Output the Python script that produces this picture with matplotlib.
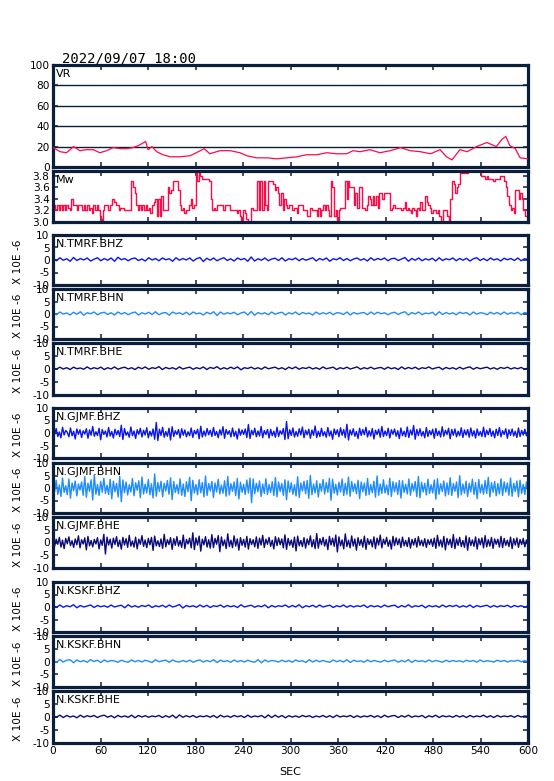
import numpy as np
import matplotlib
matplotlib.use("Agg")
import matplotlib.pyplot as plt

plt.rcParams['axes.unicode_minus'] = False
plt.rcParams['font.family'] = ['DejaVu Sans']

TITLE = "2022/09/07 18:00"
X_TICKS = [0, 60, 120, 180, 240, 300, 360, 420, 480, 540, 600]
VR_TICKS = [0, 20, 40, 60, 80, 100]
MW_TICKS = [3.0, 3.2, 3.4, 3.6, 3.8]
SEIS_TICKS = [-10, -5, 0, 5, 10]
SEIS_UNIT = "X 10E -6"

# (sec, VR %)
VR_POINTS = [(0, 19), (9, 15), (17, 14), (26, 20), (34, 16), (42, 17), (51, 17), (59, 14),
             (68, 16), (76, 19), (85, 18), (93, 18), (101, 19), (108, 21), (117, 25), (120, 17),
             (125, 20), (131, 15), (139, 12), (148, 10), (160, 10), (173, 11), (181, 14),
             (191, 18), (198, 13), (211, 16), (224, 16), (236, 14), (245, 11), (257, 9),
             (270, 9), (283, 8), (295, 9), (308, 10), (320, 12), (333, 12), (346, 14),
             (358, 13), (371, 13), (379, 16), (388, 15), (400, 17), (413, 14), (426, 16),
             (439, 19), (451, 16), (464, 15), (477, 13), (489, 17), (497, 10), (504, 7),
             (514, 17), (523, 15), (535, 20), (548, 24), (560, 20), (567, 27), (572, 30),
             (577, 21), (584, 18), (590, 9), (600, 8)]

# (sec, Mw)
MW_POINTS = [(0, 3.3), (2, 3.2), (5, 3.3), (7, 3.2), (9, 3.3), (11, 3.2), (13, 3.3), (15, 3.2),
             (17, 3.3), (19, 3.25), (21, 3.2), (23, 3.4), (25, 3.3), (28, 3.3), (30, 3.2),
             (32, 3.3), (35, 3.3), (37, 3.2), (39, 3.3), (41, 3.2), (43, 3.3), (45, 3.2),
             (47, 3.25), (49, 3.15), (51, 3.3), (53, 3.2), (55, 3.3), (57, 3.2), (59, 3.1),
             (60, 3.05), (62, 3.0), (63, 3.2), (65, 3.3), (67, 3.3), (70, 3.2), (72, 3.3),
             (75, 3.4), (77, 3.35), (79, 3.3), (81, 3.3), (83, 3.2), (85, 3.25), (88, 3.25),
             (90, 3.2), (94, 3.2), (97, 3.2), (99, 3.7), (101, 3.6), (103, 3.5), (105, 3.3),
             (107, 3.2), (109, 3.3), (111, 3.2), (113, 3.3), (115, 3.2), (117, 3.3), (119, 3.2),
             (121, 3.25), (123, 3.15), (125, 3.3), (127, 3.35), (129, 3.4), (131, 3.1),
             (133, 3.4), (135, 3.1), (137, 3.45), (139, 3.2), (141, 3.2), (143, 3.2), (145, 3.6),
             (147, 3.5), (149, 3.55), (151, 3.7), (153, 3.7), (155, 3.7), (157, 3.7), (158, 3.55),
             (160, 3.3), (162, 3.2), (164, 3.25), (166, 3.15), (168, 3.2), (170, 3.2), (172, 3.3),
             (174, 3.4), (176, 3.25), (178, 3.3), (180, 3.85), (182, 3.7), (184, 3.85),
             (186, 3.8), (188, 3.75), (190, 3.75), (193, 3.75), (195, 3.75), (197, 3.7),
             (199, 3.4), (201, 3.2), (203, 3.25), (205, 3.2), (207, 3.3), (210, 3.3), (212, 3.3),
             (215, 3.2), (217, 3.3), (220, 3.3), (222, 3.3), (224, 3.2), (226, 3.2), (228, 3.2),
             (230, 3.2), (232, 3.15), (234, 3.2), (236, 3.1), (238, 3.0), (240, 3.2), (242, 3.15),
             (244, 3.05), (246, 3.0), (248, 3.0), (250, 3.25), (252, 3.2), (254, 3.2), (256, 3.2),
             (258, 3.7), (260, 3.2), (262, 3.7), (264, 3.2), (266, 3.7), (268, 3.3), (270, 3.2),
             (272, 3.7), (274, 3.7), (276, 3.7), (278, 3.65), (280, 3.55), (282, 3.6), (284, 3.5),
             (286, 3.3), (288, 3.5), (290, 3.2), (292, 3.4), (294, 3.3), (296, 3.25), (298, 3.3),
             (300, 3.3), (302, 3.2), (305, 3.25), (308, 3.15), (310, 3.3), (313, 3.3), (316, 3.2),
             (319, 3.2), (321, 3.1), (324, 3.25), (327, 3.2), (330, 3.2), (333, 3.1), (335, 3.25),
             (337, 3.1), (339, 3.2), (341, 3.3), (343, 3.2), (345, 3.3), (347, 3.2), (349, 3.1),
             (351, 3.7), (353, 3.6), (355, 3.1), (357, 3.2), (359, 3.0), (361, 3.2), (363, 3.25),
             (365, 3.25), (367, 3.25), (369, 3.7), (371, 3.4), (372, 3.7), (374, 3.6), (376, 3.6),
             (378, 3.6), (380, 3.3), (382, 3.5), (384, 3.25), (386, 3.6), (388, 3.6), (390, 3.25),
             (392, 3.25), (394, 3.2), (396, 3.3), (398, 3.45), (400, 3.4), (402, 3.3), (404, 3.45),
             (406, 3.3), (408, 3.45), (410, 3.25), (412, 3.5), (414, 3.5), (416, 3.4), (418, 3.5),
             (420, 3.5), (422, 3.5), (424, 3.5), (426, 3.2), (428, 3.25), (430, 3.3), (432, 3.25),
             (434, 3.25), (436, 3.25), (438, 3.25), (440, 3.2), (442, 3.25), (444, 3.35),
             (446, 3.2), (448, 3.25), (450, 3.2), (452, 3.15), (454, 3.25), (456, 3.2), (458, 3.1),
             (460, 3.25), (462, 3.2), (464, 3.35), (466, 3.2), (468, 3.2), (470, 3.45), (472, 3.35),
             (474, 3.3), (476, 3.25), (478, 3.15), (480, 3.2), (482, 3.2), (484, 3.15), (486, 3.2),
             (488, 3.1), (490, 3.0), (492, 3.2), (494, 3.2), (496, 3.2), (498, 3.1), (500, 3.0),
             (502, 3.4), (504, 3.7), (506, 3.65), (508, 3.5), (510, 3.6), (512, 3.65), (514, 3.85),
             (516, 3.9), (518, 3.85), (520, 3.85), (522, 3.85), (524, 3.9), (528, 3.9), (532, 3.9),
             (536, 3.9), (538, 3.9), (540, 3.8), (542, 3.8), (544, 3.8), (546, 3.75), (548, 3.8),
             (550, 3.75), (552, 3.75), (554, 3.75), (556, 3.7), (558, 3.75), (560, 3.75),
             (562, 3.75), (564, 3.8), (566, 3.8), (568, 3.8), (570, 3.7), (572, 3.6), (574, 3.45),
             (576, 3.3), (578, 3.2), (580, 3.25), (582, 3.15), (584, 3.55), (586, 3.55), (588, 3.4),
             (590, 3.5), (592, 3.4), (594, 3.2), (596, 3.1), (600, 3.1)]

# waveform samples (x 10E-6), evenly spaced over 0-600 s
TMRF_BHZ = [0.7, -0.3, 0.9, -0.1, 0.5, -0.5, 1.0, -0.2, 0.6, 0.0, 0.8, -0.4, 0.3, 0.9, -0.3, 0.6, -0.1, 0.8, -0.5, 1.1,
            0.1, 0.6, -0.3, 0.5, 0.8, -0.2, 0.4, -0.4, 0.9, 0.0, 0.6, -0.3, 0.8, 0.1, 0.5, -0.5, 0.9, -0.1, 0.6, 0.0,
            0.8, -0.4, 0.5, 1.0, -0.6, 0.7, -0.1, 0.8, -0.3, 0.4, 0.9, -0.2, 0.5, -0.4, 0.8, 0.1, 0.6, -0.5, 1.2, -0.4,
            0.5, -0.1, 0.8, -0.3, 0.4, 0.7, -0.2, 0.9, -0.4, 0.5, 0.1, 0.8, -0.3, 0.6, -0.1, 0.4, 0.9, -0.4, 0.6, 0.0,
            0.8, -0.5, 0.5, 0.1, 0.9, -0.2, 0.6, -0.3, 0.4, 0.8, -0.1, 0.5, -0.4, 0.9, -0.1, 0.6, 0.1, 0.8, -0.3, 0.5,
            0.7, -0.2, 0.4, 1.0, -0.5, 0.6, -0.1, 0.8, -0.3, 0.5, 0.0, 0.7, -0.4, 0.9, -0.2, 0.5, 0.1, 0.8, -0.3, 0.6,
            -0.1, 0.7, -0.4, 0.5, 0.9, -0.2, 0.6, -0.3, 0.8, 0.0, 0.5, -0.4, 0.7, 0.1, 0.6, -0.2, 0.8, -0.3, 0.5, 0.2]
TMRF_BHN = [0.6, -0.3, 0.8, 0.0, 0.4, -0.4, 0.7, -0.1, 0.9, -0.5, 0.5, 0.1, 0.8, -0.3, 0.4, 0.7, -0.2, 0.5, -0.4, 0.8,
            0.0, 0.6, -0.3, 0.4, 0.8, -0.4, 0.5, 0.0, 0.7, -0.2, 0.9, -0.3, 0.4, 0.6, -0.5, 0.8, 0.1, 0.5, -0.2, 0.7,
            -0.3, 0.8, 0.1, 0.4, -0.4, 0.7, 0.0, 0.9, -0.6, 0.8, -0.1, 0.5, 0.1, 0.7, -0.3, 0.4, 0.8, -0.4, 1.0, -0.5,
            0.6, 0.0, 0.5, -0.3, 0.8, -0.1, 0.4, 0.7, -0.4, 0.5, 0.0, 0.8, -0.3, 0.6, 0.1, 0.4, -0.4, 0.8, -0.1, 0.5,
            0.0, 0.7, -0.3, 0.5, 0.4, -0.2, 0.8, -0.4, 0.6, 0.0, 0.4, 0.6, -0.3, 0.8, -0.1, 0.7, 0.1, 0.5, -0.3, 0.4,
            0.7, -0.2, 0.5, 0.9, -0.4, 0.6, 0.0, 0.8, -0.3, 0.4, 0.1, 0.7, -0.5, 0.9, -0.2, 0.6, 0.0, 0.5, -0.3, 0.7,
            0.2, 0.6, -0.4, 0.8, -0.1, 0.5, 0.3, -0.3, 0.7, 0.0, 0.6, -0.2, 0.8, -0.1, 0.5, 0.1, 0.7, -0.3, 0.6, 0.2]
TMRF_BHE = [0.4, -0.1, 0.7, 0.0, 0.5, -0.2, 0.7, 0.1, 0.4, -0.1, 0.8, 0.0, 0.5, 0.1, 0.7, -0.2, 0.5, 0.0, 0.8, -0.1,
            0.4, 0.7, 0.0, 0.5, -0.2, 0.7, 0.1, 0.8, -0.1, 0.5, 0.2, 0.9, -0.2, 0.6, 0.1, 0.5, -0.1, 0.8, 0.0, 0.4,
            0.7, -0.1, 0.5, 0.1, 0.8, -0.2, 0.6, 0.2, 0.9, -0.1, 0.5, 0.0, 0.7, 0.1, 0.8, -0.3, 0.5, 0.2, 0.7, 0.0,
            0.5, -0.1, 0.8, 0.1, 0.4, 0.7, 0.0, 0.5, -0.2, 0.7, 0.1, 0.8, -0.1, 0.5, 0.2, 0.7, 0.0, 0.5, -0.1, 0.8,
            0.1, 0.4, 0.7, -0.2, 0.5, 0.1, 0.7, 0.0, 0.4, 0.8, -0.1, 0.5, 0.1, 0.7, 0.0, 0.4, 0.6, -0.1, 0.7, 0.1,
            0.5, -0.2, 0.8, 0.0, 0.6, 0.1, 0.7, -0.1, 0.5, 0.2, 0.8, 0.0, 0.4, 0.7, -0.2, 0.6, 0.1, 0.5, -0.1, 0.7,
            0.0, 0.5, 0.8, -0.1, 0.6, 0.1, 0.4, 0.7, 0.0, 0.5, -0.1, 0.6, 0.2, 0.7, 0.0, 0.5, 0.1, 0.6, -0.1, 0.4]
GJMF_BHZ = [1.1, -0.6, 1.8, -1.4, 0.4, -1.9, 2.3, -0.8, 1.0, 0.3, -1.5, 2.0, -1.1, 0.7, -2.4, 1.6, -0.5, 1.3, -1.8, 0.9,
            -0.4, 1.7, -2.1, 1.2, -0.9, 2.6, -1.3, 0.5, -1.0, 1.9, -2.7, 1.4, -0.6, 0.8, -1.6, 2.2, -1.2, 0.6, -2.0, 1.5,
            -0.7, 1.0, -1.4, 3.1, -2.6, 1.8, -0.9, 0.4, -1.7, 2.4, -1.1, 0.8, -2.2, 1.3, -0.5, 1.9, -1.6, 1.1, -0.8, 2.1,
            -1.9, 0.7, -1.2, 1.6, -2.5, 4.2, -3.0, 1.5, -1.0, 2.3, -1.7, 0.6, -1.3, 1.9, -2.8, 2.5, -1.4, 0.9, -0.6, 1.4,
            -2.0, 1.7, -0.9, 1.2, -1.5, 0.5, -1.1, 2.0, -1.8, 1.0, -0.4, 1.5, -2.3, 2.7, -1.6, 0.8, -1.2, 1.8, -0.7, 1.1,
            -1.4, 2.2, -1.0, 0.6, -1.9, 1.3, -0.8, 2.5, -2.1, 1.4, -0.5, 0.9, -1.6, 2.0, -1.3, 0.7, -2.4, 1.7, -0.9, 1.2,
            -0.6, 1.6, -1.8, 3.4, -2.2, 1.1, -0.7, 1.9, -1.5, 0.8, -1.2, 2.6, -1.9, 1.0, -0.6, 1.4, -2.0, 1.5, -1.1, 0.7,
            -1.7, 2.3, -1.4, 0.9, -0.5, 1.8, -2.6, 4.6, -2.3, 1.3, -1.0, 2.0, -1.6, 0.6, -1.3, 1.7, -0.8, 2.4, -1.9, 1.1,
            -0.7, 1.5, -2.1, 1.2, -0.9, 2.8, -1.8, 0.7, -1.4, 1.9, -1.1, 0.5, -1.7, 2.2, -1.2, 0.8, -2.5, 1.6, -0.6, 1.3,
            -1.5, 2.1, -0.9, 1.4, -1.9, 3.5, -2.8, 1.2, -0.8, 1.7, -1.3, 0.6, -2.2, 1.9, -1.0, 1.4, -0.7, 2.3, -1.6, 0.9,
            -1.2, 1.8, -2.4, 1.1, -0.6, 1.5, -1.7, 2.6, -1.4, 0.8, -1.0, 1.9, -2.0, 1.3, -0.5, 1.6, -1.3, 0.9, -2.2, 2.0,
            -1.1, 0.7, -1.5, 2.4, -1.8, 1.2, -0.8, 3.0, -2.5, 1.4, -1.0, 1.7, -1.2, 0.6, -1.9, 2.2, -1.4, 1.0, -0.7, 1.5,
            -2.1, 1.8, -1.0, 0.8, -1.6, 2.5, -1.3, 1.1, -0.6, 1.9, -2.3, 1.4, -0.9, 1.6, -1.5, 0.7, -1.1, 2.1, -1.8, 1.2,
            -0.8, 1.4, -1.7, 2.0, -1.2, 0.9, -2.0, 1.6, -1.0, 0.6, -1.4, 2.3, -1.6, 1.1, -0.7, 1.8, -1.3, 0.8, -1.9, 1.5,
            -1.0, 2.2, -1.5, 0.9, -0.6, 1.7, -2.1, 1.3, -0.9, 1.6, -1.2, 0.7, -1.8, 2.0, -1.4, 1.0, -0.8, 1.5, -1.1, 0.6]
GJMF_BHN = [2.2, -1.5, 3.1, -2.6, 1.2, -3.4, 4.0, -1.8, 0.9, -2.7, 3.6, -4.1, 2.0, -1.1, 2.8, -3.2, 1.6, -0.8, 2.4, -2.9,
            4.5, -3.7, 1.9, -1.3, 3.3, -4.8, 5.2, -2.5, 1.4, -3.0, 2.6, -1.7, 3.9, -2.2, 1.1, -2.6, 3.5, -4.3, 2.7, -1.5,
            1.8, -3.6, 4.7, -5.5, 3.2, -1.9, 2.4, -2.8, 1.3, -1.6, 3.8, -3.1, 2.1, -0.9, 2.9, -3.9, 4.4, -2.4, 1.5, -2.0,
            3.4, -2.7, 1.7, -4.0, 5.6, -3.3, 2.2, -1.4, 2.7, -3.5, 1.9, -1.2, 3.0, -2.5, 4.1, -4.6, 2.6, -1.8, 1.3, -2.3,
            3.7, -2.9, 1.6, -3.4, 2.5, -1.5, 4.3, -5.1, 3.1, -2.0, 1.4, -2.7, 3.3, -1.9, 2.2, -3.6, 4.8, -3.0, 1.8, -1.2,
            2.6, -3.8, 2.0, -1.6, 3.5, -2.4, 1.2, -2.1, 2.9, -3.3, 4.6, -2.8, 1.7, -1.3, 2.4, -3.1, 3.8, -4.4, 2.3, -1.7,
            1.5, -2.6, 3.2, -2.0, 4.0, -5.9, 3.6, -2.3, 1.9, -1.5, 2.8, -3.4, 1.6, -2.2, 3.7, -2.6, 1.4, -1.8, 2.5, -3.0,
            4.2, -3.5, 2.4, -1.4, 1.8, -2.9, 3.3, -4.7, 2.8, -1.6, 2.1, -2.5, 1.3, -3.2, 4.5, -3.8, 2.0, -1.2, 2.7, -2.3,
            3.0, -4.1, 5.0, -2.7, 1.6, -2.0, 2.9, -3.6, 1.8, -1.3, 3.4, -2.4, 2.2, -1.7, 3.9, -4.9, 3.5, -2.1, 1.5, -2.8,
            2.3, -1.6, 3.6, -3.0, 1.9, -2.5, 4.4, -3.3, 2.6, -1.4, 1.7, -2.3, 3.1, -4.2, 2.4, -1.5, 2.0, -3.0, 3.8, -2.6,
            1.4, -1.9, 2.7, -3.7, 4.8, -2.9, 1.6, -2.2, 3.3, -2.0, 1.2, -2.7, 3.9, -3.4, 2.5, -1.5, 2.1, -2.6, 3.0, -4.0,
            2.9, -1.8, 1.5, -2.4, 3.6, -2.9, 1.8, -1.2, 2.6, -3.5, 4.6, -3.9, 2.3, -1.6, 1.9, -2.8, 3.5, -2.2, 1.3, -2.0,
            3.2, -4.5, 3.7, -2.5, 1.7, -1.4, 2.8, -3.2, 2.0, -2.6, 4.1, -3.0, 1.8, -1.3, 2.4, -3.8, 4.9, -2.7, 1.6, -2.1,
            2.7, -3.4, 1.9, -1.5, 3.5, -2.6, 2.2, -4.3, 3.4, -2.0, 1.4, -2.5, 3.0, -2.2, 4.3, -3.6, 2.1, -1.7, 2.6, -3.1,
            1.8, -2.4, 3.7, -3.0, 2.5, -1.6, 2.0, -2.9, 4.0, -3.3, 1.9, -1.4, 2.8, -3.5, 3.1, -2.2, 1.5, -2.6, 2.4, -1.9]
GJMF_BHE = [0.8, -1.5, 1.3, -0.7, 2.0, -1.8, 0.9, -2.4, 1.6, -0.5, 2.2, -1.2, 0.7, -1.9, 1.4, -0.9, 2.6, -2.1, 1.1, -0.6,
            1.8, -2.9, 2.4, -1.3, 0.8, -1.7, 1.2, -0.6, 1.9, -2.5, 1.0, -1.1, 3.2, -4.5, 2.1, -1.0, 1.3, -2.2, 1.7, -0.8,
            2.3, -1.6, 0.9, -2.6, 2.0, -1.0, 1.5, -1.9, 2.8, -1.4, 0.6, -1.8, 2.1, -2.5, 1.3, -0.7, 2.7, -1.5, 1.0, -2.0,
            1.6, -0.9, 2.0, -3.1, 2.5, -1.3, 0.7, -1.6, 1.4, -2.3, 3.2, -1.7, 1.1, -0.8, 1.9, -2.7, 1.5, -1.1, 2.3, -1.4,
            0.8, -1.9, 2.9, -2.4, 1.2, -0.6, 1.7, -2.1, 3.8, -2.8, 1.8, -1.0, 2.5, -3.4, 1.3, -0.9, 2.3, -1.8, 1.1, -2.2,
            3.1, -2.0, 1.6, -0.7, 2.7, -3.6, 2.2, -1.3, 1.0, -2.4, 3.4, -1.6, 0.9, -2.0, 2.6, -1.4, 1.4, -3.0, 1.9, -1.1,
            1.2, -1.8, 2.4, -2.6, 1.5, -0.8, 1.1, -1.7, 2.2, -2.3, 1.7, -1.0, 2.8, -2.0, 1.3, -0.7, 2.0, -1.5, 0.9, -2.5,
            2.3, -1.2, 1.8, -0.9, 1.4, -2.1, 3.0, -2.7, 1.6, -1.1, 1.0, -1.9, 2.1, -3.3, 2.5, -1.3, 0.8, -1.6, 1.9, -2.2,
            1.4, -0.9, 2.6, -1.7, 1.1, -2.4, 3.5, -2.2, 1.5, -0.8, 2.0, -1.4, 1.2, -2.8, 2.4, -1.0, 1.7, -1.5, 2.9, -3.7,
            2.2, -1.3, 1.0, -2.5, 3.4, -1.6, 0.9, -2.1, 2.6, -1.4, 1.4, -3.0, 1.9, -1.1, 1.2, -1.8, 2.5, -2.7, 1.5, -0.8,
            1.1, -1.7, 2.2, -2.4, 1.7, -1.0, 2.9, -2.1, 1.3, -0.7, 2.0, -1.5, 0.9, -2.6, 2.4, -1.2, 1.8, -0.9, 1.4, -2.0,
            2.1, -1.3, 0.8, -1.6, 1.9, -2.2, 1.2, -1.0, 1.6, -1.8, 2.3, -1.1, 0.9, -1.4, 1.5, -1.9, 1.1, -0.8, 1.3, -1.5,
            1.7, -2.3, 2.8, -1.4, 1.0, -1.8, 2.4, -2.9, 1.6, -0.9, 1.3, -2.0, 3.1, -2.4, 1.4, -1.1, 2.0, -1.6, 0.8, -1.9,
            2.6, -3.0, 1.9, -1.2, 1.0, -1.5, 2.2, -2.6, 1.5, -0.9, 1.8, -2.1, 2.7, -1.7, 1.1, -1.4, 2.0, -2.3, 1.4, -0.7,
            1.3, -1.8, 2.4, -2.0, 1.6, -1.1, 0.9, -1.6, 2.1, -2.4, 1.5, -1.0, 1.8, -1.9, 1.2, -0.8, 1.6, -1.7, 1.0, -1.3]
KSKF_BHZ = [0.7, -0.2, 0.8, -0.1, 0.5, 0.1, 0.9, -0.3, 0.6, 0.0, 0.4, 0.8, -0.2, 0.6, 0.1, 0.5, -0.1, 0.8, 0.0, 0.4,
            0.7, -0.3, 0.9, 0.0, 0.5, -0.1, 0.6, 0.2, 0.8, -0.2, 0.5, 0.1, 0.7, -0.1, 0.8, 0.0, 0.4, 1.0, -0.4, 0.6,
            0.1, 0.5, -0.1, 0.8, 0.0, 0.7, -0.2, 0.5, 0.2, 0.8, -0.1, 0.6, 0.1, 0.5, -0.2, 0.9, 0.0, 0.4, 0.7, -0.1,
            0.5, 0.1, 0.8, -0.3, 0.6, 0.0, 0.5, 0.2, 0.8, -0.1, 0.6, 0.0, 0.9, -0.3, 0.5, 0.1, 0.7, -0.1, 0.8, 0.0,
            0.4, 0.7, -0.2, 0.5, 0.1, 0.8, -0.1, 0.6, 0.0, 0.5, 0.2, 0.8, -0.2, 0.6, 0.1, 0.5, -0.1, 0.8, 0.1, 0.5,
            0.7, -0.2, 0.6, 0.0, 0.9, -0.1, 0.5, 0.2, 0.7, -0.3, 0.6, 0.1, 0.5, -0.1, 0.8, 0.0, 0.6, 0.2, 0.7, -0.1,
            0.5, 0.0, 0.8, -0.2, 0.6, 0.1, 0.4, 0.7, -0.1, 0.6, 0.0, 0.5, 0.2, 0.7, -0.1, 0.6, 0.1, 0.5, 0.0, 0.4]
KSKF_BHN = [0.6, -0.4, 0.8, -0.2, 0.5, 0.7, -0.5, 0.6, -0.1, 0.4, -0.3, 0.7, 0.0, 0.5, -0.4, 0.6, -0.1, 0.4, 0.2, -0.3,
            0.5, 0.0, -0.3, 0.6, -0.1, 0.4, -0.2, 0.5, 0.1, -0.4, 0.7, -0.1, 0.3, 0.5, -0.3, 0.6, 0.0, -0.2, 0.4, -0.1,
            0.5, -0.3, 0.3, 0.6, -0.2, 0.4, -0.1, 0.7, -0.4, 0.5, 0.0, 0.3, -0.3, 0.6, -0.1, 0.4, -0.2, 0.5, 0.0, -0.3,
            0.7, -0.5, 0.6, -0.1, 0.4, 0.2, -0.2, 0.5, -0.1, 0.4, -0.3, 0.6, 0.0, 0.3, -0.4, 0.7, -0.2, 0.5, -0.1, 0.4,
            0.0, -0.3, 0.6, -0.1, 0.4, -0.2, 0.7, -0.4, 0.5, 0.0, 0.3, -0.3, 0.6, -0.1, 0.4, 0.0, -0.2, 0.5, -0.1, 0.3,
            0.6, -0.3, 0.4, -0.1, 0.7, -0.4, 0.5, 0.0, 0.3, -0.2, 0.6, -0.1, 0.4, 0.1, -0.3, 0.5, -0.1, 0.4, 0.0, 0.3,
            -0.2, 0.5, 0.0, 0.4, -0.3, 0.6, -0.1, 0.3, 0.1, -0.2, 0.5, 0.0, 0.4, -0.2, 0.3, 0.1, 0.5, -0.1, 0.3, 0.0]
KSKF_BHE = [0.5, -0.1, 0.7, -0.2, 0.6, 0.0, 0.4, -0.3, 0.7, -0.1, 0.5, 0.1, 0.6, -0.2, 0.4, 0.7, -0.1, 0.5, -0.3, 0.6,
            0.0, 0.4, -0.1, 0.7, -0.3, 0.6, 0.0, 0.5, -0.1, 0.4, 0.1, 0.6, -0.2, 0.5, -0.1, 0.7, -0.4, 0.8, -0.1, 0.5,
            0.0, 0.6, -0.2, 0.4, 0.1, 0.5, -0.1, 0.6, -0.3, 0.7, 0.0, 0.4, -0.1, 0.6, 0.1, 0.5, -0.2, 0.7, -0.1, 0.4,
            0.1, 0.6, -0.3, 0.8, -0.2, 0.7, -0.1, 0.6, -0.3, 0.5, 0.0, 0.4, -0.1, 0.6, 0.1, 0.5, -0.2, 0.4, 0.0, 0.6,
            -0.1, 0.5, -0.2, 0.7, 0.0, 0.4, 0.1, 0.6, -0.2, 0.5, -0.1, 0.4, 0.1, 0.6, -0.1, 0.5, -0.2, 0.7, 0.0, 0.4,
            0.6, -0.2, 0.5, 0.0, 0.7, -0.1, 0.4, 0.1, 0.6, -0.3, 0.5, 0.0, 0.7, -0.2, 0.5, 0.1, 0.4, -0.1, 0.6, 0.0,
            0.5, -0.2, 0.6, 0.0, 0.4, 0.1, 0.7, -0.1, 0.5, -0.2, 0.6, 0.0, 0.4, 0.1, 0.5, -0.1, 0.6, 0.0, 0.4, 0.2]

CHANNELS = ["N.TMRF.BHZ", "N.TMRF.BHN", "N.TMRF.BHE",
            "N.GJMF.BHZ", "N.GJMF.BHN", "N.GJMF.BHE",
            "N.KSKF.BHZ", "N.KSKF.BHN", "N.KSKF.BHE"]
TRACES = [TMRF_BHZ, TMRF_BHN, TMRF_BHE, GJMF_BHZ, GJMF_BHN, GJMF_BHE, KSKF_BHZ, KSKF_BHN, KSKF_BHE]

# ---- styling ----
W, H = 554, 781
FRAME = '#0b1f3d'
RED = '#ff0a46'
COMP_COLORS = {'BHZ': '#0a14f0', 'BHN': '#1e8cff', 'BHE': '#0a0a7a'}
FS = 7.6

fig = plt.figure(figsize=(W / 100, H / 100), dpi=100)


def rect(top, bottom, left=53, right=528):
    return [left / W, 1 - bottom / H, (right - left) / W, (bottom - top) / H]


def style(ax, yticks, ylim, fmt=None, xlabels=False):
    ax.set_xlim(0, 600)
    ax.set_ylim(*ylim)
    ax.set_xticks(X_TICKS)
    ax.set_yticks(yticks)
    if fmt:
        ax.set_yticklabels([fmt.format(v) for v in yticks])
    for s in ax.spines.values():
        s.set_linewidth(2.3)
        s.set_color(FRAME)
    ax.tick_params(direction='in', top=True, right=True, length=3.8, width=1.1,
                   color=FRAME, labelsize=FS, pad=2.5, labelcolor='black')
    if not xlabels:
        ax.tick_params(labelbottom=False)


def label(ax, txt):
    ax.annotate(txt, xy=(0, 1), xycoords='axes fraction', xytext=(2.2, -3.0),
                textcoords='offset points', ha='left', va='top', fontsize=8.0)


# VR panel
ax = fig.add_axes(rect(65, 167))
vt, vv = zip(*VR_POINTS)
for g in [20, 40, 60, 80]:
    ax.axhline(g, color=FRAME, lw=1.0, zorder=1)
ax.plot(vt, vv, color=RED, lw=0.9, zorder=3)
style(ax, VR_TICKS, (0, 100))
label(ax, "VR")

# Mw panel
ax = fig.add_axes(rect(171, 222))
mt, mv = zip(*MW_POINTS)
ax.plot(mt, mv, color=RED, lw=1.0, drawstyle='steps-post')
style(ax, MW_TICKS, (3.0, 3.88), fmt="{:.1f}")
label(ax, "Mw")

# seismograms
PANELS = [(235, 285), (289, 339), (343, 395), (408, 458), (463, 513), (517, 568),
          (582, 632), (636, 687), (691, 743)]
for i, ((top, bot), name, tr) in enumerate(zip(PANELS, CHANNELS, TRACES)):
    ax = fig.add_axes(rect(top, bot))
    t = np.linspace(0, 600, len(tr))
    ax.plot(t, tr, color=COMP_COLORS[name[-3:]], lw=1.0)
    style(ax, SEIS_TICKS, (-10, 10), xlabels=(i == len(PANELS) - 1))
    label(ax, name)
    fig.text(18 / W, 1 - ((top + bot) / 2 + 2) / H, SEIS_UNIT, rotation=90,
             ha='center', va='center', fontsize=FS)

fig.text(62 / W, 1 - 58 / H, TITLE, ha='left', va='center', fontsize=10,
         family='DejaVu Sans Mono')
fig.text(290 / W, 1 - 772 / H, "SEC", ha='center', va='center', fontsize=FS + 0.4)

fig.savefig('out.png', dpi=100)
